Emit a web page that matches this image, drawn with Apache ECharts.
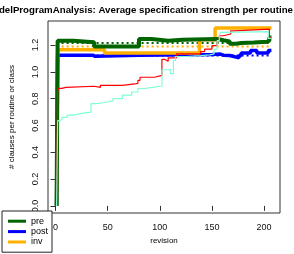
<!DOCTYPE html>
<html><head><meta charset="utf-8">
<script src="https://cdn.jsdelivr.net/npm/echarts@6/dist/echarts.min.js"></script>
<style>html,body{margin:0;padding:0;background:#fff}#c{width:294px;height:254px}</style>
</head><body><div id="c"></div>
<script>
// [revision, value] pairs (step functions)
const preData = [[1,0],[2,1.233],[17,1.222],[37,1.19],[80,1.246],[92,1.232],[108,1.24],[122,1.246],[155,1.236],[161,1.228],[167,1.21],[173,1.215],[178,1.22],[190,1.226],[203,1.233],[205,1.256],[207,1.256]];
const postData = [[1,0],[2,1.125],[36,1.116],[38,1.125],[80,1.13],[150,1.133],[158,1.125],[161,1.122],[167,1.115],[171,1.105],[176,1.122],[178,1.142],[187,1.16],[193,1.142],[204,1.16],[207,1.16]];
const invData = [[1,0],[2,1.165],[47,1.142],[138,1.24],[153,1.327],[207,1.327]];
const redData = [[1,0],[2,0.858],[3,0.877],[6,0.885],[10,0.893],[37,0.885],[43,0.9],[64,0.91],[76,0.915],[79,0.937],[81,0.96],[95,0.974],[102,1.093],[105,1.08],[108,1.105],[116,1.135],[139,1.152],[143,1.17],[150,1.196],[155,1.233],[157,1.27],[161,1.283],[168,1.307],[171,1.32],[205,1.258],[207,1.258]];
const aquaData = [[1,0],[2,0.636],[4,0.645],[6,0.66],[11,0.678],[17,0.69],[25,0.70],[34,0.764],[39,0.77],[46,0.784],[55,0.80],[64,0.826],[73,0.85],[79,0.876],[85,0.887],[95,0.895],[102,1.016],[108,1.02],[110,0.987],[113,1.085],[115,1.115],[125,1.122],[139,1.127],[148,1.135],[152,1.17],[155,1.233],[157,1.27],[158,1.295],[161,1.30],[204,1.25],[207,1.25]];
const preMean = 1.215, invMean = 1.19, postMean = 1.122;
const revStart = 1, revEnd = 207;
const xTicks = [0, 50, 100, 150, 200];
const yTicks = [0, 0.2, 0.4, 0.6, 0.8, 1.0, 1.2];
const legendNames = ['pre', 'post', 'inv'];

const chart = echarts.init(document.getElementById('c'), null, {renderer: 'canvas'});
const font = 'Liberation Sans, Helvetica, Arial, sans-serif';
function dotted(name, v, color) {
  return {name: name, type: 'line', data: [[revStart, v], [revEnd, v]], showSymbol: false, silent: true,
    lineStyle: {color: color, width: 2, type: [2, 3]}, z: 1};
}
function thick(name, data, color, w) {
  return {name: name, type: 'line', step: 'end', data: data, showSymbol: false, color: color,
    lineStyle: {color: color, width: w}, z: 2};
}
function thin(name, data, color) {
  return {name: name, type: 'line', step: 'end', data: data, showSymbol: false,
    lineStyle: {color: color, width: 1.2}, z: 3};
}
chart.setOption({
  animation: false,
  textStyle: {fontFamily: font},
  grid: {left: 40, right: 14, top: 21, bottom: 41, show: true, borderColor: '#333', borderWidth: 1, backgroundColor: 'transparent'},
  graphic: [{type: 'text', right: 1, top: 5.5, style: {text: 'ModelProgramAnalysis: Average specification strength per routine', font: 'bold 9.7px ' + font, fill: '#000'}}],
  legend: {data: legendNames, orient: 'vertical', left: 2, top: 211, icon: 'rect', itemWidth: 18, itemHeight: 3,
    itemGap: 0, padding: [5, 4, 5, 6], borderColor: '#222', borderWidth: 1, backgroundColor: '#fff',
    textStyle: {fontSize: 9, lineHeight: 10.4, color: '#000', fontFamily: font}},
  xAxis: {type: 'value', min: -7.24, max: 215.24, name: 'revision', nameLocation: 'middle', nameGap: 23,
    nameTextStyle: {fontSize: 8, color: '#000', fontFamily: font},
    axisLine: {show: false}, splitLine: {show: false},
    axisTick: {show: true, length: 5, customValues: xTicks, lineStyle: {color: '#333'}},
    axisLabel: {customValues: xTicks, fontSize: 9, color: '#111', margin: 10}},
  yAxis: {type: 'value', min: -0.0531, max: 1.38, name: '# clauses per routine or class', nameLocation: 'middle', nameGap: 32,
    nameRotate: 90, nameTextStyle: {fontSize: 8, color: '#000', fontFamily: font},
    axisLine: {show: false}, splitLine: {show: false},
    axisTick: {show: true, length: 5, customValues: yTicks, lineStyle: {color: '#333'}},
    axisLabel: {customValues: yTicks, rotate: 90, fontSize: 9, color: '#111', margin: 8, formatter: v => v.toFixed(1)}},
  series: [
    dotted('preMean', preMean, '#006400'),
    dotted('invMean', invMean, '#FFB000'),
    dotted('postMean', postMean, '#0000FF'),
    thick('post', postData, '#0000FF', 3.5),
    thick('inv', invData, '#FFB000', 3.5),
    thick('pre', preData, '#006400', 4),
    thin('red', redData, '#FF0000'),
    thin('aqua', aquaData, '#7FFFD4')
  ]
});
</script></body></html>
